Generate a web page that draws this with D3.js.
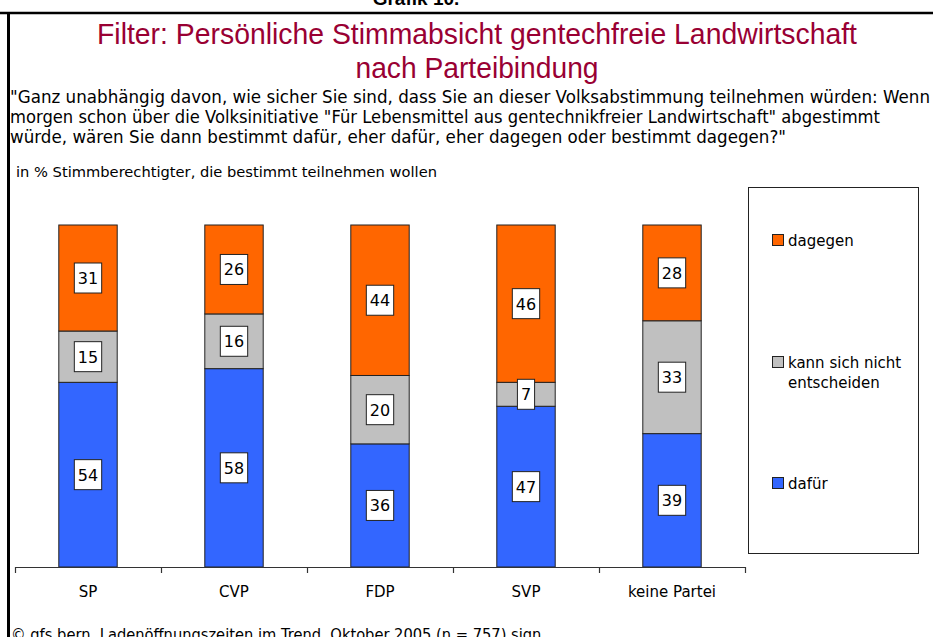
<!DOCTYPE html>
<html>
<head>
<meta charset="utf-8">
<script src="https://cdn.jsdelivr.net/npm/d3@7"></script>
<style>
  body { margin: 0; background: #fff; }
  svg { display: block; }
  text { font-family: "DejaVu Sans", Verdana, sans-serif; fill: #000; }
</style>
</head>
<body>
<div id="chart"></div>
<script>
// data
const parties = ["SP", "CVP", "FDP", "SVP", "keine Partei"];
const dafuer = [54, 58, 36, 47, 39];
const unentschieden = [15, 16, 20, 7, 33];
const dagegen = [31, 26, 44, 46, 28];
const seriesNames = ["dafür", "kann sich nicht entscheiden", "dagegen"];
const seriesColors = ["#3366ff", "#c0c0c0", "#ff6600"];

const titleLines = ["Filter: Persönliche Stimmabsicht gentechfreie Landwirtschaft", "nach Parteibindung"];
const questionLines = [
    "\"Ganz unabhängig davon, wie sicher Sie sind, dass Sie an dieser Volksabstimmung teilnehmen würden: Wenn",
    "morgen schon über die Volksinitiative \"Für Lebensmittel aus gentechnikfreier Landwirtschaft\" abgestimmt",
    "würde, wären Sie dann bestimmt dafür, eher dafür, eher dagegen oder bestimmt dagegen?\""
];
const subtitle = "in % Stimmberechtigter, die bestimmt teilnehmen wollen";
const footer = "© gfs.bern, Ladenöffnungszeiten im Trend, Oktober 2005 (n = 757) sign.";

const W = 933, H = 637;
const svg = d3.select("#chart").append("svg")
    .attr("width", W)
    .attr("height", H);

// header + frame
svg.append("text")
    .attr("x", 416).attr("y", 5)
    .attr("text-anchor", "middle")
    .style("font-family", "'Liberation Sans Narrow', 'Liberation Sans', sans-serif")
    .style("font-weight", "bold")
    .style("font-size", "19px")
    .text("Grafik 10.");

svg.append("line").attr("x1", 0).attr("x2", W).attr("y1", 13).attr("y2", 13)
    .attr("stroke", "#000").attr("stroke-width", 2.5);
svg.append("line").attr("x1", 8.5).attr("x2", 8.5).attr("y1", 12).attr("y2", H)
    .attr("stroke", "#000").attr("stroke-width", 3);

// title
const titleW = [760, 243];
svg.selectAll(".title").data(titleLines).enter().append("text")
    .attr("class", "title")
    .attr("x", 477)
    .attr("y", (d, i) => 44 + i * 34)
    .attr("text-anchor", "middle")
    .attr("textLength", (d, i) => titleW[i])
    .attr("lengthAdjust", "spacingAndGlyphs")
    .style("font-family", "'Liberation Sans Narrow', 'Liberation Sans', sans-serif")
    .style("font-size", "30px")
    .style("fill", "#990033")
    .text(d => d);

// question
const qW = [920, 870, 776];
svg.selectAll(".q").data(questionLines).enter().append("text")
    .attr("class", "q")
    .attr("x", 10)
    .attr("y", (d, i) => 103 + i * 20)
    .attr("textLength", (d, i) => qW[i])
    .attr("lengthAdjust", "spacingAndGlyphs")
    .style("font-size", "17px")
    .text(d => d);

svg.append("text")
    .attr("x", 16).attr("y", 177)
    .attr("textLength", 421)
    .attr("lengthAdjust", "spacingAndGlyphs")
    .style("font-size", "14.5px")
    .text(subtitle);

// scales
const x = d3.scaleBand().domain(parties).range([15, 745]);
const y = d3.scaleLinear().domain([0, 100]).range([567, 225]);
const barW = x.bandwidth() * 0.4;

const rows = parties.map((p, i) => ({ party: p, v: [dafuer[i], unentschieden[i], dagegen[i]] }));
const stack = d3.stack().keys([0, 1, 2]).value((d, k) => d.v[k]);
const layers = stack(rows);

const g = svg.append("g");
layers.forEach((layer, k) => {
    g.selectAll(".seg" + k).data(layer).enter().append("rect")
        .attr("x", d => x(d.data.party) + (x.bandwidth() - barW) / 2)
        .attr("y", d => y(d[1]))
        .attr("width", barW)
        .attr("height", d => y(d[0]) - y(d[1]))
        .attr("fill", seriesColors[k])
        .attr("stroke", "#222")
        .attr("stroke-width", 1);
});

// value labels in white boxes
layers.forEach((layer, k) => {
    layer.forEach(d => {
        const cx = x(d.data.party) + x.bandwidth() / 2;
        const cy = (y(d[0]) + y(d[1])) / 2;
        const val = d.data.v[k];
        const lg = g.append("g");
        const t = lg.append("text")
            .attr("x", cx).attr("y", cy + 6)
            .attr("text-anchor", "middle")
            .style("font-size", "16px")
            .text(val);
        const tw = t.node().getComputedTextLength();
        lg.insert("rect", "text")
            .attr("x", cx - tw / 2 - 3.5)
            .attr("y", cy - 15)
            .attr("width", tw + 7)
            .attr("height", 30)
            .attr("fill", "#fff")
            .attr("stroke", "#222")
            .attr("stroke-width", 1);
    });
});

// axis with ticks on band edges
const edges = d3.scaleLinear().domain([0, parties.length]).range([15, 745]);
const tickAxis = svg.append("g")
    .attr("transform", "translate(0,567)")
    .call(d3.axisBottom(edges).ticks(parties.length).tickFormat("").tickSize(6).tickSizeOuter(0));
tickAxis.selectAll("path, line").attr("stroke", "#333").attr("stroke-width", 1.2);

const catAxis = svg.append("g")
    .attr("transform", "translate(0,567)")
    .call(d3.axisBottom(x).tickSize(0).tickPadding(19));
catAxis.select(".domain").remove();
catAxis.selectAll("text")
    .style("font-family", "'DejaVu Sans', Verdana, sans-serif")
    .style("font-size", "15px")
    .attr("fill", "#000");

// legend
svg.append("rect")
    .attr("x", 748.5).attr("y", 187.5)
    .attr("width", 170).attr("height", 366)
    .attr("fill", "#fff").attr("stroke", "#222").attr("stroke-width", 1);

const legendItems = [
    { k: 2, y: 240, lines: ["dagegen"] },
    { k: 1, y: 362, lines: ["kann sich nicht", "entscheiden"] },
    { k: 0, y: 483, lines: ["dafür"] }
];
legendItems.forEach(it => {
    svg.append("rect")
        .attr("x", 772.5).attr("y", it.y - 5.5)
        .attr("width", 11).attr("height", 11)
        .attr("fill", seriesColors[it.k])
        .attr("stroke", "#222").attr("stroke-width", 1);
    it.lines.forEach((l, j) => {
        svg.append("text")
            .attr("x", 788)
            .attr("y", it.y + 5.5 + j * 20)
            .style("font-size", "15px")
            .text(l);
    });
});

// footer
svg.append("text")
    .attr("x", 11).attr("y", 640)
    .attr("textLength", 535)
    .attr("lengthAdjust", "spacingAndGlyphs")
    .style("font-size", "16px")
    .text(footer);
</script>
</body>
</html>
